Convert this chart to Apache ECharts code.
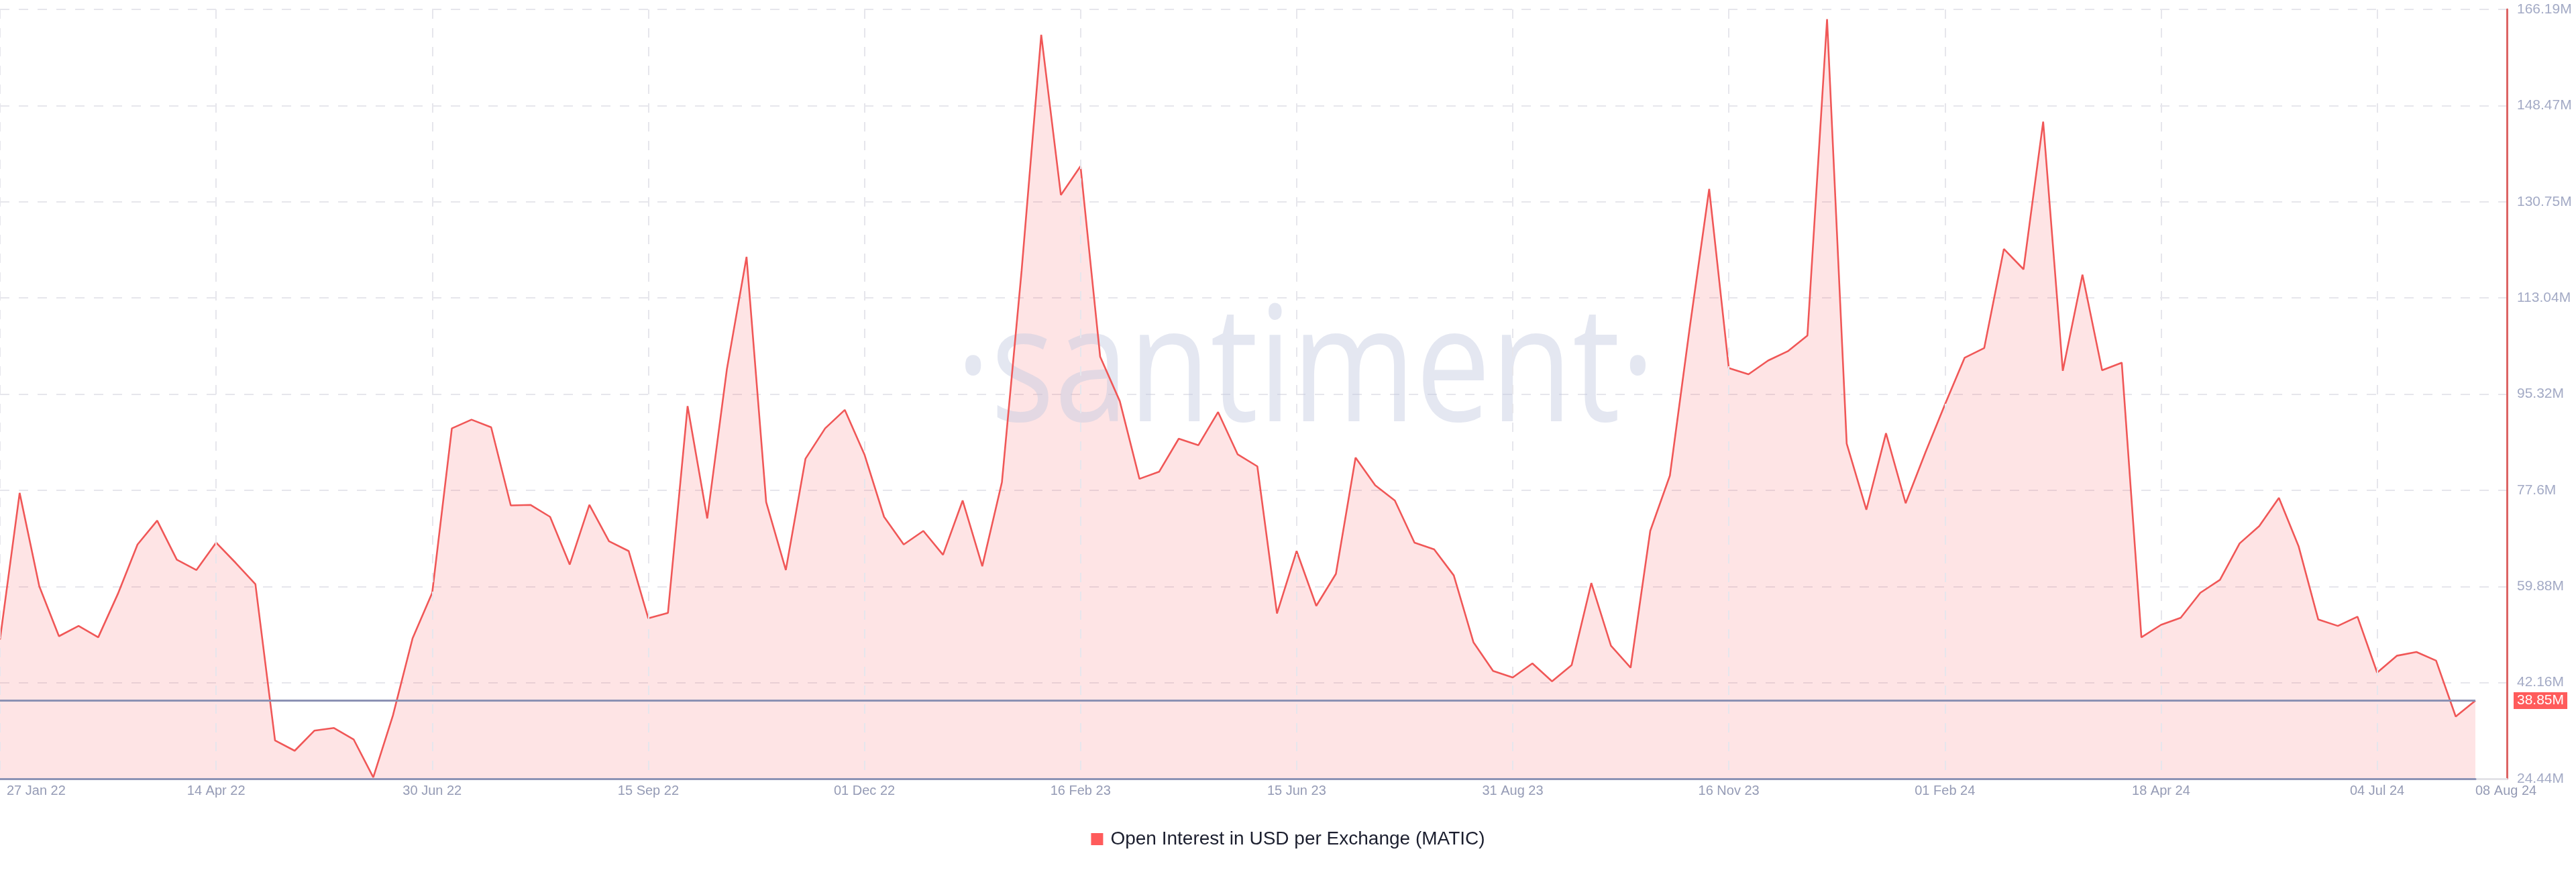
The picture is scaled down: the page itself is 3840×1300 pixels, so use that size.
<!DOCTYPE html>
<html>
<head>
<meta charset="utf-8">
<script src="https://cdn.jsdelivr.net/npm/echarts@6/dist/echarts.min.js"></script>
<style>
  html, body { margin: 0; padding: 0; background: #ffffff; }
  #chart { width: 3840px; height: 1300px; }
</style>
</head>
<body>
<div id="chart"></div>
<script>
// ---------------- DATA ----------------
const seriesName = 'Open Interest in USD per Exchange (MATIC)';

// weekly categories starting 27 Jan 2022; the source skips 6 weeks in spring 2023
const categoryStart = [2022, 0, 27];
const categoryGapAfterIndex = 60;
const categoryGapExtraWeeks = 6;

// open interest, millions USD
const openInterestM = [
  50.1, 77.1, 59.9, 50.7, 52.6, 50.5, 58.5, 67.6, 72.0, 64.8,
  62.9, 67.95, 64.2, 60.3, 31.5, 29.6, 33.3, 33.8, 31.7, 24.7,
  36.1, 50.3, 58.7, 89.0, 90.6, 89.2, 74.8, 74.9, 72.7, 63.9,
  74.9, 68.2, 66.4, 54.0, 55.0, 93.1, 72.4, 99.9, 120.6, 75.4,
  62.9, 83.4, 89.0, 92.4, 84.2, 72.7, 67.6, 70.1, 65.7, 75.7,
  63.6, 79.1, 118.0, 161.5, 132.0, 137.3, 102.2, 94.0, 79.7, 81.0,
  87.1, 85.9, 92.0, 84.2, 82.0, 54.9, 66.4, 56.3, 62.2, 83.6,
  78.5, 75.7, 67.95, 66.7, 61.9, 49.6, 44.3, 43.1, 45.7, 42.4,
  45.4, 60.5, 48.95, 44.9, 70.1, 80.3, 107.3, 133.1, 100.1, 98.96,
  101.5, 103.2, 106.1, 164.4, 86.2, 74.0, 88.1, 75.2, 84.5, 93.4,
  102.0, 103.8, 122.05, 118.3, 145.5, 99.6, 117.3, 99.7, 101.1, 50.5,
  52.8, 54.1, 58.7, 61.1, 67.8, 71.0, 76.2, 67.3, 53.8, 52.6,
  54.3, 44.0, 47.1, 47.8, 46.2, 35.9, 38.85
];

const currentValueM = 38.85;
const yMin = 24.44;
const yMax = 166.19;
const yTickLabels = ['24.44M', '42.16M', '59.88M', '77.6M', '95.32M', '113.04M', '130.75M', '148.47M', '166.19M'];
const xLabelEvery = 11;

// ---------------- BUILD ----------------
const monthNames = ['Jan','Feb','Mar','Apr','May','Jun','Jul','Aug','Sep','Oct','Nov','Dec'];
function buildCategories(n) {
  const out = [];
  let t = Date.UTC(categoryStart[0], categoryStart[1], categoryStart[2]);
  for (let i = 0; i < n; i++) {
    const d = new Date(t);
    const dd = String(d.getUTCDate()).padStart(2, '0');
    out.push(dd + ' ' + monthNames[d.getUTCMonth()] + ' ' + String(d.getUTCFullYear()).slice(2));
    const weeks = (i === categoryGapAfterIndex) ? 1 + categoryGapExtraWeeks : 1;
    t += weeks * 7 * 86400000;
  }
  return out;
}
const categories = buildCategories(openInterestM.length);
const lastIndex = categories.length - 1;

const FONT = '"Liberation Sans", Arial, Helvetica, sans-serif';
const gridTop = 14, gridBottom = 139;
const dash = [14, 14];

const chart = echarts.init(document.getElementById('chart'), null, { renderer: 'canvas' });

const option = {
  animation: false,
  backgroundColor: '#ffffff',
  textStyle: { fontFamily: FONT },
  graphic: [{
    type: 'text',
    x: 1946,
    y: 560,
    z: 2,
    scaleX: 0.83,
    scaleY: 1,
    silent: true,
    style: {
      text: '\u00B7santiment\u00B7',
      font: 'normal 240px "Open Sans", "Noto Sans", sans-serif',
      fill: 'rgba(196, 202, 224, 0.45)',
      textAlign: 'center',
      textVerticalAlign: 'middle'
    }
  }],
  legend: {
    data: [seriesName],
    left: 'center',
    top: 1232,
    icon: 'rect',
    itemWidth: 18,
    itemHeight: 18,
    selectedMode: false,
    textStyle: { fontSize: 28, color: '#1b1e2e', fontFamily: FONT, padding: [0, 0, 0, 6] }
  },
  grid: [
    { left: 0, right: 150, top: gridTop, bottom: gridBottom, containLabel: false, outerBoundsMode: 'none' },
    { left: 0, right: 103, top: gridTop, bottom: gridBottom, containLabel: false, outerBoundsMode: 'none' }
  ],
  xAxis: [
    {
      type: 'category',
      gridIndex: 0,
      data: categories,
      boundaryGap: false,
      z: 6,
      axisLine: { onZero: false, lineStyle: { color: '#8d93b5', width: 3 } },
      axisTick: { show: false },
      axisLabel: {
        interval: (idx) => idx % xLabelEvery === 0 || idx === lastIndex,
        formatter: (value, idx) => idx === 0 ? '{first|' + value + '}' : value,
        rich: { first: { padding: [0, 0, 0, 10], color: '#959bb5', fontSize: 20, fontFamily: FONT } },
        color: '#959bb5',
        fontSize: 20,
        margin: 8,
        showMinLabel: true,
        showMaxLabel: true,
        alignMinLabel: 'left',
        alignMaxLabel: 'left',
        hideOverlap: false
      },
      splitLine: {
        show: true,
        interval: (idx) => idx % xLabelEvery === 0,
        lineStyle: { color: '#e6e6ec', width: 2, type: dash }
      }
    },
    {
      type: 'value',
      gridIndex: 1,
      min: 0,
      max: 1,
      axisLine: { show: true, onZero: false, lineStyle: { color: '#e3e3e8', width: 3 } },
      axisTick: { show: false },
      axisLabel: { show: false },
      splitLine: { show: false }
    }
  ],
  yAxis: [
    {
      type: 'value',
      gridIndex: 0,
      min: yMin,
      max: yMax,
      show: false
    },
    {
      type: 'value',
      gridIndex: 1,
      position: 'right',
      min: yMin,
      max: yMax,
      interval: (yMax - yMin) / 8,
      axisLine: { show: true, onZero: false, lineStyle: { color: '#dc6464', width: 3 } },
      axisTick: { show: false },
      axisLabel: {
        color: '#a3aac5',
        fontSize: 21,
        margin: 15,
        formatter: (v, i) => yTickLabels[i]
      },
      splitLine: { show: true, lineStyle: { color: '#e6e6ec', width: 2, type: dash } }
    }
  ],
  series: [
    {
      name: 'area',
      type: 'line',
      xAxisIndex: 0,
      yAxisIndex: 0,
      data: openInterestM,
      showSymbol: false,
      silent: true,
      z: 1,
      lineStyle: { width: 0, opacity: 0 },
      areaStyle: { color: 'rgba(248, 88, 92, 0.16)', opacity: 1, origin: 'start' }
    },
    {
      name: seriesName,
      type: 'line',
      xAxisIndex: 0,
      yAxisIndex: 0,
      data: openInterestM,
      showSymbol: false,
      z: 3,
      color: '#ff5b5b',
      lineStyle: { color: '#f05757', width: 2.6 },
      markLine: {
        silent: true,
        symbol: 'none',
        data: [{ yAxis: currentValueM }],
        lineStyle: { color: '#8b91b4', width: 3, type: 'solid' },
        label: {
          position: 'end',
          distance: 57,
          formatter: currentValueM + 'M',
          color: '#ffffff',
          backgroundColor: '#ff5b5b',
          padding: [2, 5, 2, 5],
          fontSize: 21,
          fontFamily: FONT
        }
      }
    }
  ]
};

chart.setOption(option);
</script>
</body>
</html>
